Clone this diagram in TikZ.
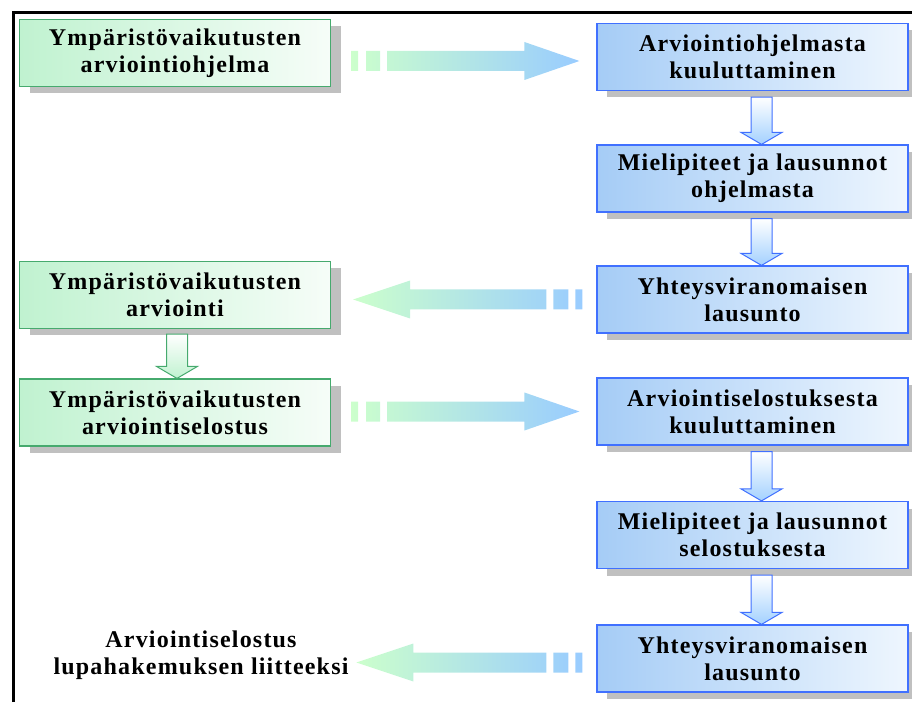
\documentclass[tikz,border=0pt]{standalone}
\usepackage{fontspec}
\usepackage{tikz}
\usetikzlibrary{shadows, calc}
\newfontfamily\boxfont{Liberation Serif}[LetterSpace=5]
\definecolor{blueline}{RGB}{64,112,255}
\definecolor{bluefillA}{RGB}{165,204,246}
\definecolor{bluefillB}{RGB}{238,246,254}
\definecolor{greenline}{RGB}{70,170,110}
\definecolor{greenfillA}{RGB}{192,242,208}
\definecolor{greenfillB}{RGB}{246,253,248}
\definecolor{flowgreen}{RGB}{204,255,204}
\definecolor{flowblue}{RGB}{153,204,255}
\definecolor{shadowgray}{RGB}{192,192,192}
\tikzset{
x=1pt, y=1pt, % one unit is one pixel of the original
every node/.style={font=\boxfont\bfseries\fontsize{24}{27}\selectfont, align=center}, % text of all boxes
box/.style={minimum width=311pt, minimum height=67pt, line width=1.2pt,
  drop shadow={shadow xshift=10pt, shadow yshift=-7pt, fill=shadowgray, opacity=1}}, % common box
bluebox/.style={box, draw=blueline, left color=bluefillA, right color=bluefillB},
greenbox/.style={box, draw=greenline, left color=greenfillA, right color=greenfillB},
bluestep/.style={draw=blueline, line width=1pt, top color=white, bottom color=flowblue!90},
greenstep/.style={draw=greenline, line width=1pt, top color=white, bottom color=greenfillA},
}
% wide arrow with broken tail, pointing right: #1 tail, #2 tip
\newcommand{\flowright}[2]{%
  \shade[left color=flowgreen, right color=flowblue] let \p1=(#1), \p2=(#2) in
    (\x1,\y2-10pt) rectangle (\x1+7pt,\y2+10pt)
    (\x1+15pt,\y2-10pt) rectangle (\x1+29pt,\y2+10pt)
    (\x1+36pt,\y2-10pt) -- (\x2-55pt,\y2-10pt) -- (\x2-55pt,\y2-19pt) -- (\x2,\y2)
    -- (\x2-55pt,\y2+19pt) -- (\x2-55pt,\y2+10pt) -- (\x1+36pt,\y2+10pt) -- cycle;}
% same, pointing left
\newcommand{\flowleft}[2]{%
  \shade[left color=flowgreen, right color=flowblue] let \p1=(#1), \p2=(#2) in
    (\x1,\y2-10pt) rectangle (\x1-7pt,\y2+10pt)
    (\x1-14pt,\y2-10pt) rectangle (\x1-29pt,\y2+10pt)
    (\x1-36pt,\y2-10pt) -- (\x2+57pt,\y2-10pt) -- (\x2+57pt,\y2-19pt) -- (\x2,\y2)
    -- (\x2+57pt,\y2+19pt) -- (\x2+57pt,\y2+10pt) -- (\x1-36pt,\y2+10pt) -- cycle;}
% short hollow arrow down: #1 top, #2 tip, #3 style
\newcommand{\stepdown}[3]{%
  \path[#3] let \p1=(#1), \p2=(#2) in
    (\x1-10.5pt,\y1) -- (\x1+10.5pt,\y1) -- (\x1+10.5pt,\y2+12pt) -- (\x1+20.5pt,\y2+12pt)
    -- (\x1,\y2) -- (\x1-20.5pt,\y2+12pt) -- (\x1-10.5pt,\y2+12pt) -- cycle;}

\begin{document}
\begin{tikzpicture}
    \useasboundingbox (0,0) rectangle (912,702);
    \draw[line width=3pt] (13,0) -- (13,689) -- (912,689);

    % right column
    \node[bluebox] (b1) at (752.5,645) {Arviointiohjelmasta\\kuuluttaminen};
    \node[bluebox] (b2) at (752.5,523.5) {Mielipiteet ja lausunnot\\ohjelmasta};
    \node[bluebox] (b3) at (752.5,402.5) {Yhteysviranomaisen\\lausunto};
    \node[bluebox] (b4) at (752.5,290.5) {Arviointiselostuksesta\\kuuluttaminen};
    \node[bluebox] (b5) at (752.5,167) {Mielipiteet ja lausunnot\\selostuksesta};
    \node[bluebox] (b6) at (752.5,43.5) {Yhteysviranomaisen\\lausunto};

    % left column
    \node[greenbox] (g1) at (175,649) {Ympäristövaikutusten\\arviointiohjelma};
    \node[greenbox] (g2) at (175,407) {Ympäristövaikutusten\\arviointi};
    \node[greenbox] (g3) at (175,289.5) {Ympäristövaikutusten\\arviointiselostus};
    \node (t) at (201,47) {Arviointiselostus\\lupahakemuksen liitteeksi};

    \stepdown{$(b1.south)+(9,-6)$}{$(b2.north)+(9,0)$}{bluestep}
    \stepdown{$(b2.south)+(9,-6)$}{$(b3.north)+(9,0)$}{bluestep}
    \stepdown{$(b4.south)+(9,-6)$}{$(b5.north)+(9,0)$}{bluestep}
    \stepdown{$(b5.south)+(9,-6)$}{$(b6.north)+(9,0)$}{bluestep}
    \stepdown{$(g2.south)+(2,-5)$}{$(g3.north)+(2,0)$}{greenstep}

    \flowright{$(g1.east)+(20,0)$}{$(b1.west)+(-17,-4)$}
    \flowleft{$(b3.west)+(-14,0)$}{$(g2.east |- b3.west)+(22,0)$}
    \flowright{$(g3.east)+(20,0)$}{$(b4.west)+(-17,0)$}
    \flowleft{$(b6.west)+(-14,0)$}{$(b6.west)+(-240,-4)$}
\end{tikzpicture}
\end{document}
